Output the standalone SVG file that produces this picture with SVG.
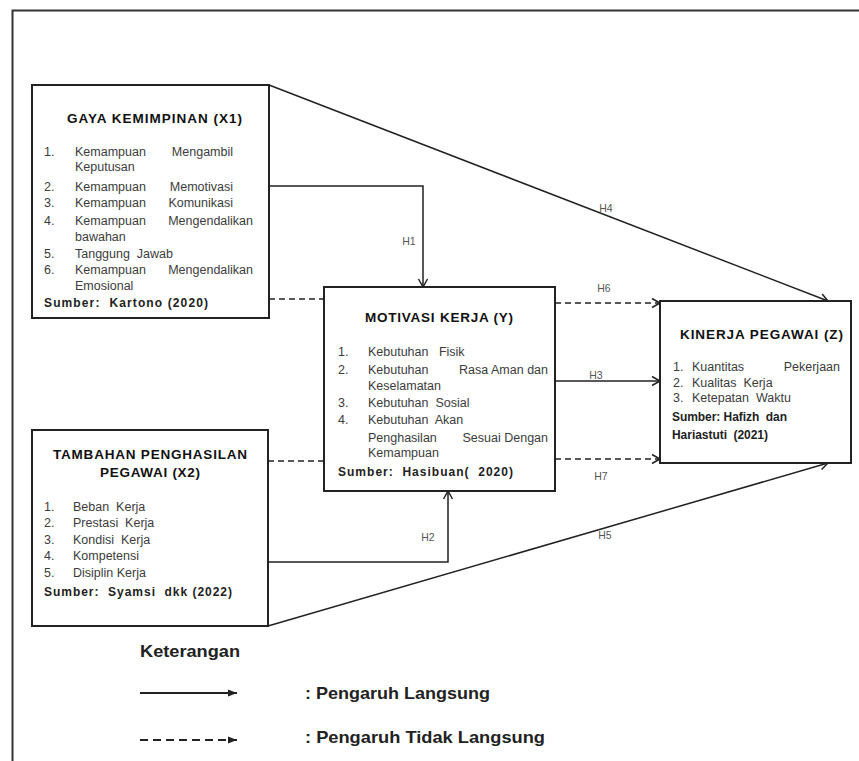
<svg xmlns="http://www.w3.org/2000/svg" width="859" height="761" viewBox="0 0 859 761">
<defs>
<style>
.box{fill:#fff;stroke:#222;stroke-width:2}
.ttl{font-family:"Liberation Sans",Arial,sans-serif;font-size:13.5px;font-weight:bold;fill:#111}
.it{font-family:"Liberation Sans",Arial,sans-serif;font-size:12.5px;fill:#3c3c3c}
.end{text-anchor:end}
.src{font-family:"Liberation Sans",Arial,sans-serif;font-size:12px;font-weight:bold;fill:#222}
.lbl{font-family:"Liberation Sans",Arial,sans-serif;font-size:10.5px;fill:#555;text-anchor:middle}
.leg{font-family:"Liberation Sans",Arial,sans-serif;font-size:16.5px;font-weight:bold;fill:#222}
.ln{fill:none;stroke:#222;stroke-width:1.5}
.dash{stroke-dasharray:6 4}
</style>
<marker id="open" viewBox="0 0 12 12" markerWidth="12" markerHeight="12" refX="10" refY="6" orient="auto" markerUnits="userSpaceOnUse">
<path d="M2,1.5 L10,6 L2,10.5" fill="none" stroke="#222" stroke-width="1.5" stroke-dasharray="none"/>
</marker>
<marker id="fill" viewBox="0 0 10 10" markerWidth="10" markerHeight="10" refX="9" refY="5" orient="auto" markerUnits="userSpaceOnUse">
<path d="M0,1.5 L9,5 L0,8.5 Z" fill="#222" stroke="none"/>
</marker>
</defs>
<rect width="859" height="761" fill="#fff"/>
<path d="M12.5,761 V10.5 H859" fill="none" stroke="#333" stroke-width="2"/>

<g id="connectors">
<path class="ln" d="M269,85 L828,301" marker-end="url(#open)"/>
<path class="ln" d="M269,186 H423 V287" marker-end="url(#open)"/>
<path class="ln dash" d="M269,299 H324"/>
<path class="ln dash" d="M555,303 H660" marker-end="url(#open)"/>
<path class="ln" d="M555,381 H660" marker-end="url(#open)"/>
<path class="ln dash" d="M268,461 H324"/>
<path class="ln dash" d="M555,459 H660" marker-end="url(#open)"/>
<path class="ln" d="M268,562 H448 V491" marker-end="url(#open)"/>
<path class="ln" d="M268,626 L828,463" marker-end="url(#open)"/>
<text class="lbl" x="409" y="245">H1</text>
<text class="lbl" x="606" y="212">H4</text>
<text class="lbl" x="604" y="292">H6</text>
<text class="lbl" x="596" y="379">H3</text>
<text class="lbl" x="601" y="480">H7</text>
<text class="lbl" x="428" y="541">H2</text>
<text class="lbl" x="605" y="539">H5</text>
</g>

<g id="x1">
<rect class="box" x="32" y="85" width="237" height="233"/>
<text class="ttl" x="67" y="123" textLength="175" lengthAdjust="spacing">GAYA KEMIMPINAN (X1)</text>
<text class="it" x="44" y="156">1.</text><text class="it" x="75" y="156">Kemampuan</text><text class="it end" x="233" y="156">Mengambil</text>
<text class="it" x="75" y="171">Keputusan</text>
<text class="it" x="44" y="191">2.</text><text class="it" x="75" y="191">Kemampuan</text><text class="it end" x="233" y="191">Memotivasi</text>
<text class="it" x="44" y="207">3.</text><text class="it" x="75" y="207">Kemampuan</text><text class="it end" x="233" y="207">Komunikasi</text>
<text class="it" x="44" y="225">4.</text><text class="it" x="75" y="225">Kemampuan</text><text class="it end" x="253" y="225">Mengendalikan</text>
<text class="it" x="75" y="241">bawahan</text>
<text class="it" x="44" y="258">5.</text><text class="it" x="75" y="258" xml:space="preserve">Tanggung  Jawab</text>
<text class="it" x="44" y="274">6.</text><text class="it" x="75" y="274">Kemampuan</text><text class="it end" x="253" y="274">Mengendalikan</text>
<text class="it" x="75" y="290">Emosional</text>
<text class="src" x="44" y="307" textLength="164" lengthAdjust="spacing" xml:space="preserve">Sumber:  Kartono (2020)</text>
</g>

<g id="x2">
<rect class="box" x="32" y="430" width="236" height="196"/>
<text class="ttl" x="53" y="459" textLength="194" lengthAdjust="spacing">TAMBAHAN PENGHASILAN</text>
<text class="ttl" x="100" y="477" textLength="100" lengthAdjust="spacing">PEGAWAI (X2)</text>
<text class="it" x="44" y="511">1.</text><text class="it" x="73" y="511" xml:space="preserve">Beban  Kerja</text>
<text class="it" x="44" y="527">2.</text><text class="it" x="73" y="527" xml:space="preserve">Prestasi  Kerja</text>
<text class="it" x="44" y="544">3.</text><text class="it" x="73" y="544" xml:space="preserve">Kondisi  Kerja</text>
<text class="it" x="44" y="560">4.</text><text class="it" x="73" y="560">Kompetensi</text>
<text class="it" x="44" y="577">5.</text><text class="it" x="73" y="577">Disiplin Kerja</text>
<text class="src" x="44" y="596" textLength="188" lengthAdjust="spacing" xml:space="preserve">Sumber:  Syamsi  dkk (2022)</text>
</g>

<g id="y">
<rect class="box" x="324" y="287" width="231" height="204"/>
<text class="ttl" x="365" y="322" textLength="148" lengthAdjust="spacing">MOTIVASI KERJA (Y)</text>
<text class="it" x="338" y="356">1.</text><text class="it" x="368" y="356" xml:space="preserve">Kebutuhan   Fisik</text>
<text class="it" x="338" y="374">2.</text><text class="it" x="368" y="374">Kebutuhan</text><text class="it end" x="548" y="374">Rasa Aman dan</text>
<text class="it" x="368" y="390">Keselamatan</text>
<text class="it" x="338" y="407">3.</text><text class="it" x="368" y="407" xml:space="preserve">Kebutuhan  Sosial</text>
<text class="it" x="338" y="424">4.</text><text class="it" x="368" y="424" xml:space="preserve">Kebutuhan  Akan</text>
<text class="it" x="368" y="442">Penghasilan</text><text class="it end" x="548" y="442">Sesuai Dengan</text>
<text class="it" x="368" y="457">Kemampuan</text>
<text class="src" x="338" y="476" textLength="175" lengthAdjust="spacing" xml:space="preserve">Sumber:  Hasibuan(  2020)</text>
</g>

<g id="z">
<rect class="box" x="660" y="301" width="191" height="162"/>
<text class="ttl" x="680" y="339" textLength="163" lengthAdjust="spacing">KINERJA PEGAWAI (Z)</text>
<text class="it" x="673" y="371">1.</text><text class="it" x="692" y="371">Kuantitas</text><text class="it end" x="840" y="371">Pekerjaan</text>
<text class="it" x="673" y="387">2.</text><text class="it" x="692" y="387" xml:space="preserve">Kualitas  Kerja</text>
<text class="it" x="673" y="402">3.</text><text class="it" x="692" y="402" xml:space="preserve">Ketepatan  Waktu</text>
<text class="src" x="672" y="421" textLength="115" lengthAdjust="spacing" xml:space="preserve">Sumber: Hafizh  dan</text>
<text class="src" x="672" y="439" textLength="96" lengthAdjust="spacing" xml:space="preserve">Hariastuti  (2021)</text>
</g>

<g id="legend">
<text class="leg" x="140" y="657" textLength="100" lengthAdjust="spacingAndGlyphs">Keterangan</text>
<path d="M140,693 H237" fill="none" stroke="#222" stroke-width="1.8" marker-end="url(#fill)"/>
<path d="M140,740 H237" fill="none" stroke="#222" stroke-width="1.8" stroke-dasharray="8 5" marker-end="url(#fill)"/>
<text class="leg" x="305" y="699" textLength="185" lengthAdjust="spacingAndGlyphs">: Pengaruh Langsung</text>
<text class="leg" x="305" y="743" textLength="240" lengthAdjust="spacingAndGlyphs">: Pengaruh Tidak Langsung</text>
</g>
</svg>
